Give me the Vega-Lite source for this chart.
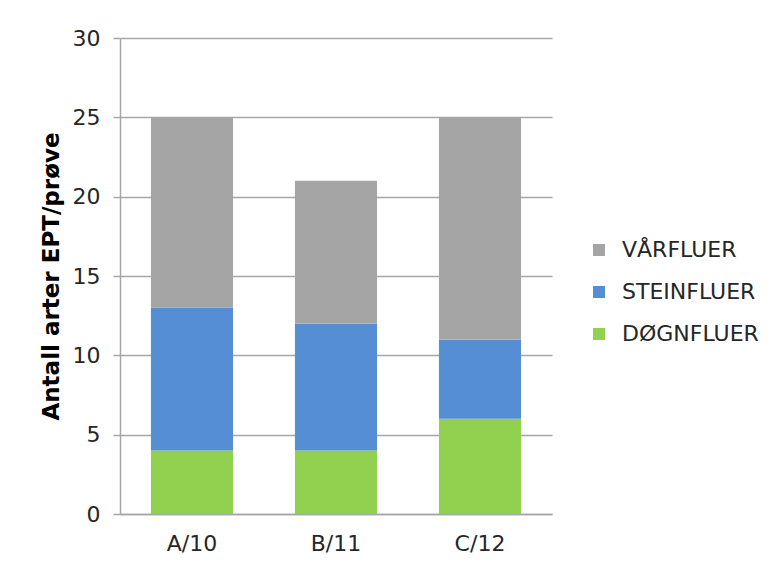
{
  "$schema": "https://vega.github.io/schema/vega-lite/v6.json",
  "autosize": {"type": "none"},
  "padding": {"left": 120, "top": 38, "right": 230, "bottom": 51},
  "width": 432,
  "height": 476,
  "background": "white",
  "config": {
    "view": {"stroke": null},
    "font": "DejaVu Sans",
    "axis": {"labelFont": "DejaVu Sans", "titleFont": "DejaVu Sans"}
  },
  "data": {
    "values": [
      {"stasjon": "A/10", "kategori": "DØGNFLUER", "antall": 4},
      {"stasjon": "A/10", "kategori": "STEINFLUER", "antall": 9},
      {"stasjon": "A/10", "kategori": "VÅRFLUER", "antall": 12},
      {"stasjon": "B/11", "kategori": "DØGNFLUER", "antall": 4},
      {"stasjon": "B/11", "kategori": "STEINFLUER", "antall": 8},
      {"stasjon": "B/11", "kategori": "VÅRFLUER", "antall": 9},
      {"stasjon": "C/12", "kategori": "DØGNFLUER", "antall": 6},
      {"stasjon": "C/12", "kategori": "STEINFLUER", "antall": 5},
      {"stasjon": "C/12", "kategori": "VÅRFLUER", "antall": 14}
    ]
  },
  "mark": {"type": "bar"},
  "encoding": {
    "x": {
      "field": "stasjon",
      "type": "nominal",
      "scale": {"paddingInner": 0.43, "paddingOuter": 0.215},
      "axis": {
        "title": null,
        "labelAngle": 0,
        "labelFontSize": 22,
        "labelColor": "#262626",
        "labelPadding": 19,
        "ticks": false,
        "domainColor": "#a6a6a6",
        "domainWidth": 1.5
      }
    },
    "y": {
      "field": "antall",
      "type": "quantitative",
      "stack": "zero",
      "scale": {"domain": [0, 30], "nice": false},
      "axis": {
        "title": "Antall arter EPT/prøve",
        "titleFontSize": 23,
        "titleFontWeight": "bold",
        "titleColor": "#000000",
        "titlePadding": 9,
        "values": [0, 5, 10, 15, 20, 25, 30],
        "labelFontSize": 22,
        "labelColor": "#262626",
        "labelPadding": 13,
        "tickSize": 7,
        "tickColor": "#a6a6a6",
        "tickWidth": 1.5,
        "domainColor": "#a6a6a6",
        "domainWidth": 1.5,
        "grid": true,
        "gridColor": "#a6a6a6",
        "gridWidth": 1.5
      }
    },
    "color": {
      "field": "kategori",
      "type": "nominal",
      "sort": ["VÅRFLUER", "STEINFLUER", "DØGNFLUER"],
      "scale": {
        "domain": ["VÅRFLUER", "STEINFLUER", "DØGNFLUER"],
        "range": ["#a5a5a5", "#558ed5", "#92d050"]
      },
      "legend": {
        "title": null,
        "orient": "none",
        "legendX": 468,
        "legendY": 201,
        "symbolType": "square",
        "symbolSize": 144,
        "symbolStrokeWidth": 0,
        "labelFontSize": 22,
        "labelColor": "#262626",
        "labelOffset": 12,
        "rowPadding": 20
      }
    },
    "order": {"field": "kategori", "sort": "ascending"}
  }
}
